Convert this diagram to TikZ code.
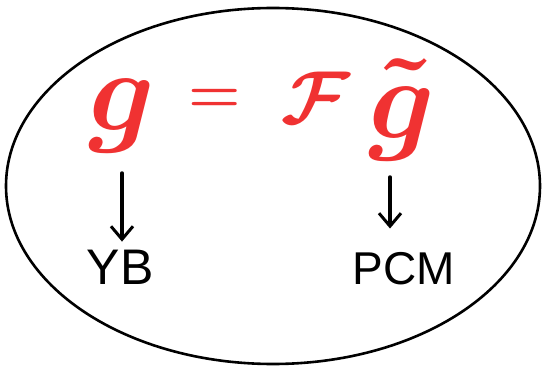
\RequirePackage{fix-cm}
\documentclass[tikz,border=0pt]{standalone}
\usepackage{fontspec}
\usepackage{amsmath, amssymb}
\setsansfont{Liberation Sans}
\usetikzlibrary{arrows.meta, positioning}
\definecolor{inkred}{RGB}{240,50,50}
\tikzset{
  eqpart/.style  = {text=inkred, inner sep=0pt, font=\fontsize{#1}{#1}\selectfont\boldmath},
  eqpart/.default = 75,
  label/.style   = {inner sep=0pt, font=\sffamily\fontsize{#1}{#1}\selectfont},
  label/.default = 50,
  arrow/.style   = {-{Straight Barb[length=13pt, width=22pt, line width=3pt]}, line width=3.5pt, line cap=round},
  rim/.style     = {draw, line width=2.6pt},
}

\begin{document}
\begin{tikzpicture}[x=1pt, y=-1pt]
  \useasboundingbox (0,0) rectangle (544,369);
  % outer ellipse
  \draw[rim] (273,186) ellipse [x radius=267, y radius=178];
  % the equation
  \node[eqpart=115] (gl)  at (122,116) {$g$};
  \node[eqpart=60]  (eq)  at (215,101) {$=$};
  \node[eqpart]     (F)   at (316,98)  {$\mathcal{F}$};
  \node[eqpart=115] (gr)  at (402,110) {$\tilde{g}$};
  % what each side gives
  \node[label]    (yb)  at (120,267) {YB};
  \node[label=46] (pcm) at (404,269) {PCM};
  \coordinate (a1) at (122,173);
  \coordinate (a2) at (390,177);
  \draw[arrow, shorten >=8pt] (a1) -- (a1 |- yb.north);
  \draw[arrow, shorten >=24pt] (a2) -- (a2 |- pcm.north);
\end{tikzpicture}
\end{document}
